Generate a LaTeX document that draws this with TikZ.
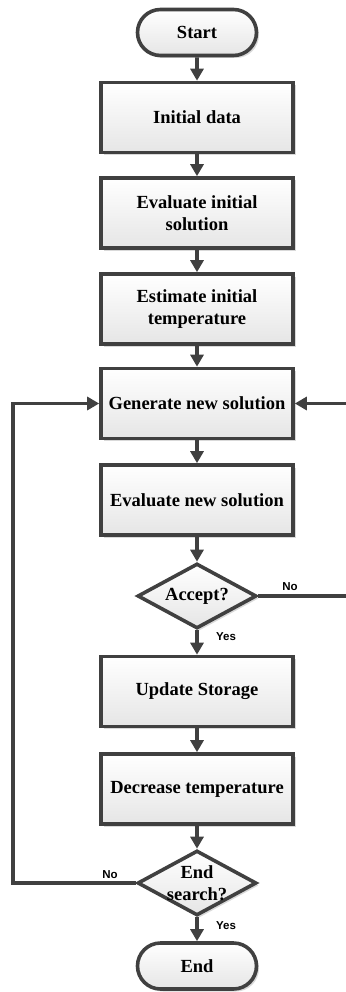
\documentclass[tikz,border=0pt]{standalone}
\usepackage{fontspec}
\setmainfont{Liberation Serif}
\newfontfamily\labfont{Liberation Sans}
\usetikzlibrary{arrows.meta,shapes.geometric,shapes.misc,shadows}
\definecolor{ln}{HTML}{404040}
\tikzset{
 base/.style={draw=ln, line width=3.6pt, top color=white, bottom color=black!10,
   drop shadow={shadow xshift=2.5pt,shadow yshift=-2.5pt,opacity=0.25,fill=black!60},
   font=\bfseries\fontsize{18.5}{22}\selectfont, align=center, inner sep=0pt},
 procbox/.style={base, rectangle, minimum width=192pt, minimum height=70pt},
 termbox/.style={base, rounded rectangle, minimum width=119pt, minimum height=46pt},
 decbox/.style={base, diamond, minimum width=119pt, minimum height=65pt},
 dtext/.style={font=\bfseries\fontsize{18.5}{22}\selectfont, align=center, inner sep=0pt},
 conn/.style={draw=ln, line width=3.6pt, -{Triangle[length=12pt,width=13pt]}},
 lab/.style={font=\labfont\bfseries\fontsize{11.5}{13}\selectfont, text=black, inner sep=0pt}
}
\begin{document}
\begin{tikzpicture}[x=1pt,y=-1pt]
\useasboundingbox (0,0) rectangle (345,992);
\node[termbox] (start) at (197,32.5) {Start};
\node[procbox] (init) at (197,117.5) {Initial data};
\node[procbox] (evi) at (197,213) {Evaluate initial\\solution};
\node[procbox] (est) at (197,309) {Estimate initial\\temperature};
\node[procbox] (gen) at (197,403.5) {Generate new solution};
\node[procbox] (evn) at (197,500) {Evaluate new solution};
\node[decbox] (acc) at (197,596) {};
\node[dtext] (acct) at (acc) {Accept?};
\node[procbox] (upd) at (197,691.5) {Update Storage};
\node[procbox] (dec) at (197,789) {Decrease temperature};
\node[decbox] (es) at (197,883) {};
\node[dtext] (est2) at (es) {End\\search?};
\node[termbox] (end) at (197,966) {End};

\coordinate (ar1) at (349,596);
\coordinate (ar2) at (349,403.5);
\coordinate (al1) at (13,883);
\coordinate (al2) at (13,403.5);

\draw[conn] (start) -- (init);
\draw[conn] (init) -- (evi);
\draw[conn] (evi) -- (est);
\draw[conn] (est) -- (gen);
\draw[conn] (gen) -- (evn);
\draw[conn] (evn) -- (acc);
\draw[conn] (acc) -- (upd);
\draw[conn] (upd) -- (dec);
\draw[conn] (dec) -- (es);
\draw[conn] (es) -- (end);
\draw[conn] (acc.east) -- (ar1) -- (ar2) -- (gen.east);
\draw[conn] (es.west) -- (al1) -- (al2) -- (gen.west);

\node[lab] (no1) at (290,587) {No};
\node[lab] (yes1) at (226,637) {Yes};
\node[lab] (no2) at (110,875) {No};
\node[lab] (yes2) at (226,926) {Yes};
\end{tikzpicture}
\end{document}
